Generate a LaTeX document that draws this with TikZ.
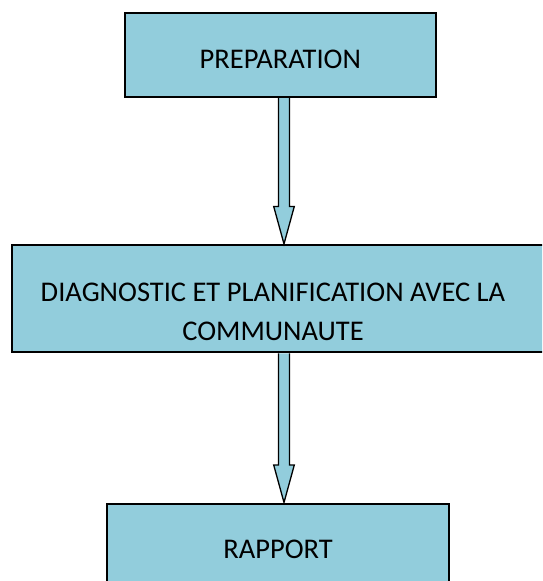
\documentclass[tikz,border=0pt]{standalone}
\usepackage{fontspec}
\setmainfont{Carlito}
\usepackage{tikz}
\usetikzlibrary{calc}
\definecolor{stageblue}{RGB}{146,205,220}

\begin{document}
\begin{tikzpicture}[x=1pt, y=-1pt,
    stagebox/.style={rectangle, draw=black, line width=2pt, fill=stageblue, inner sep=0pt, align=center, font=\fontsize{28.5}{39}\selectfont},
    blockarrow/.style={draw=black, line width=1.3pt, fill=stageblue, line join=miter}
]
\useasboundingbox (0,0) rectangle (542,581);
\clip (0,0) rectangle (542,581);

% the three stages, top to bottom
\node[stagebox, minimum width=311pt, minimum height=84pt, text height=26pt, text depth=0pt] (prep) at (280.3,55) {PREPARATION};
\node[stagebox, minimum width=534pt, minimum height=107.5pt, text height=83pt, text depth=0pt] (diag) at (279,298.7) {\hspace*{-12pt}DIAGNOSTIC ET PLANIFICATION AVEC LA\\ \hspace*{-12pt}COMMUNAUTE};
\node[stagebox, minimum width=342pt, minimum height=84pt, text height=25pt, text depth=0pt] (report) at (278,545.5) {RAPPORT};

% block arrows between the stages
\coordinate (axis) at (284,0);
\newcommand{\stagearrow}[2]{%
  \draw[blockarrow] ($(#1.south -| axis)+(-5.5,0)$) -- ($(#2.north -| axis)+(-5.5,-37.5)$)
    -- ($(#2.north -| axis)+(-10.3,-37.5)$) -- (#2.north -| axis)
    -- ($(#2.north -| axis)+(10.3,-37.5)$) -- ($(#2.north -| axis)+(5.5,-37.5)$)
    -- ($(#1.south -| axis)+(5.5,0)$);}
\stagearrow{prep}{diag}
\stagearrow{diag}{report}

\end{tikzpicture}
\end{document}
